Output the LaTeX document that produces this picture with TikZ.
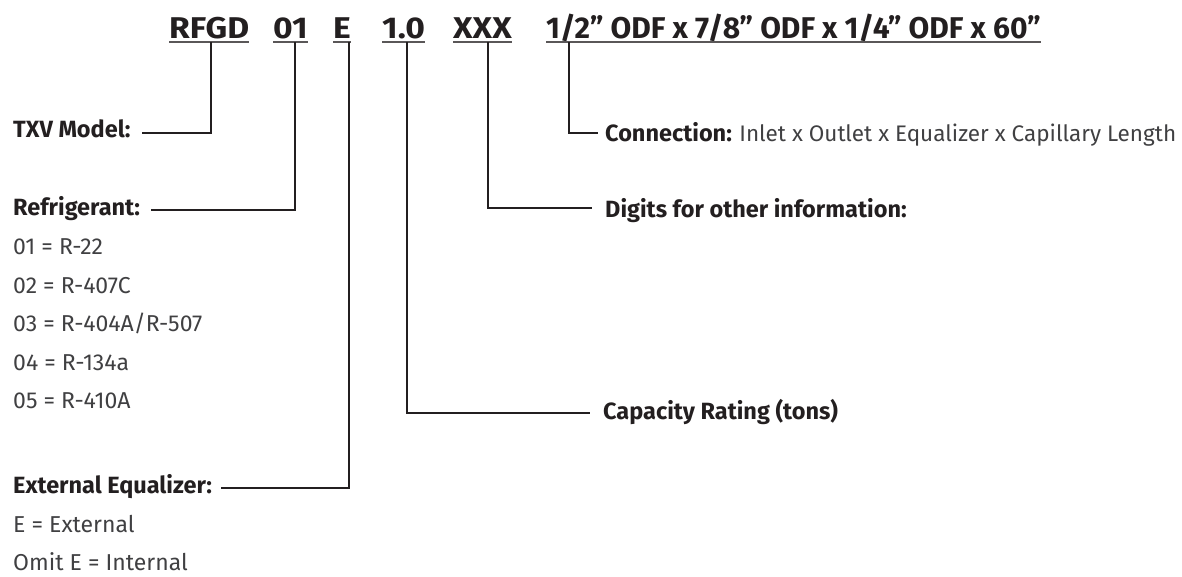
\documentclass[tikz,border=0pt]{standalone}
\usepackage{fontspec}
\setmainfont{Fira Sans}
\definecolor{ink}{HTML}{231F20}
\definecolor{ink2}{HTML}{404042}
\begin{document}
\begin{tikzpicture}[x=1pt,y=-1pt,
  hdr/.style={anchor=base west, inner sep=0pt, font=\fontsize{30}{36}\selectfont\bfseries, text=ink},
  hdrw/.style={hdr, font=\fontsize{30}{36}\selectfont\bfseries\addfontfeature{FakeStretch=1.12}},
  lbl/.style={anchor=base west, inner sep=0pt, font=\fontsize{23.5}{28}\selectfont\bfseries, text=ink},
  val/.style={anchor=base west, inner sep=0pt, font=\fontsize{23}{28}\selectfont, text=ink2},
  conn/.style={draw=ink, line width=2pt},
  uline/.style={draw=ink!75, line width=1.5pt}]
\useasboundingbox (0,0) rectangle (1182,576);
% header tokens
\node[hdrw] (h1) at (169,38) {RFGD};
\node[hdrw] (h2) at (273,38) {01};
\node[hdrw] (h3) at (333,38) {E};
\node[hdrw] (h4) at (382,38) {1.0};
\node[hdrw] (h5) at (453,38) {XXX};
\node[hdr] (h6) at (546,38) {1/2” ODF x 7/8” ODF x 1/4” ODF x 60”};
\coordinate (t1) at (211,42);
\coordinate (t2) at (295,42);
\coordinate (t3) at (349,42);
\coordinate (t4) at (407,42);
\coordinate (t5) at (488,42);
\coordinate (t6) at (569,42);
\foreach \h in {h1,h2,h3,h4,h5,h6}
  \draw[uline] (\h.west |- t1) -- (\h.east |- t1);
% left labels
\node[lbl] (txv) at (13,137) {TXV Model:};
\node[lbl] (ref) at (13,215) {Refrigerant:};
\node[val] (r1) at (13,254) {01 = R-22};
\node[val] (r2) at (13,293) {02 = R-407C};
\node[val] (r3) at (13,331) {03 = R-404A/R-507};
\node[val] (r4) at (13,370) {04 = R-134a};
\node[val] (r5) at (13,408) {05 = R-410A};
\node[lbl] (ext) at (13,493) {External Equalizer:};
\node[val] (e1) at (13,532) {E = External};
\node[val] (e2) at (13,570) {Omit E = Internal};
% right labels
\node[lbl] (con) at (605,141) {Connection: {\fontsize{22.5}{28}\selectfont\mdseries\color{ink2}Inlet x Outlet x Equalizer x Capillary Length}};
\node[lbl] (dig) at (605,217) {Digits for other information:};
\node[lbl] (cap) at (603,419) {Capacity Rating (tons)};
% connectors
\draw[conn] (t1) |- ([xshift=11pt,yshift=4pt]txv.base east);
\draw[conn] (t2) |- ([xshift=11pt,yshift=5pt]ref.base east);
\draw[conn] (t3) |- ([xshift=9pt,yshift=5pt]ext.base east);
\draw[conn] (t4) |- ([xshift=-13pt,yshift=6pt]cap.base west);
\draw[conn] (t5) |- ([xshift=-13pt,yshift=9pt]dig.base west);
\draw[conn] (t6) |- ([xshift=-7pt,yshift=8pt]con.base west);
\end{tikzpicture}
\end{document}
